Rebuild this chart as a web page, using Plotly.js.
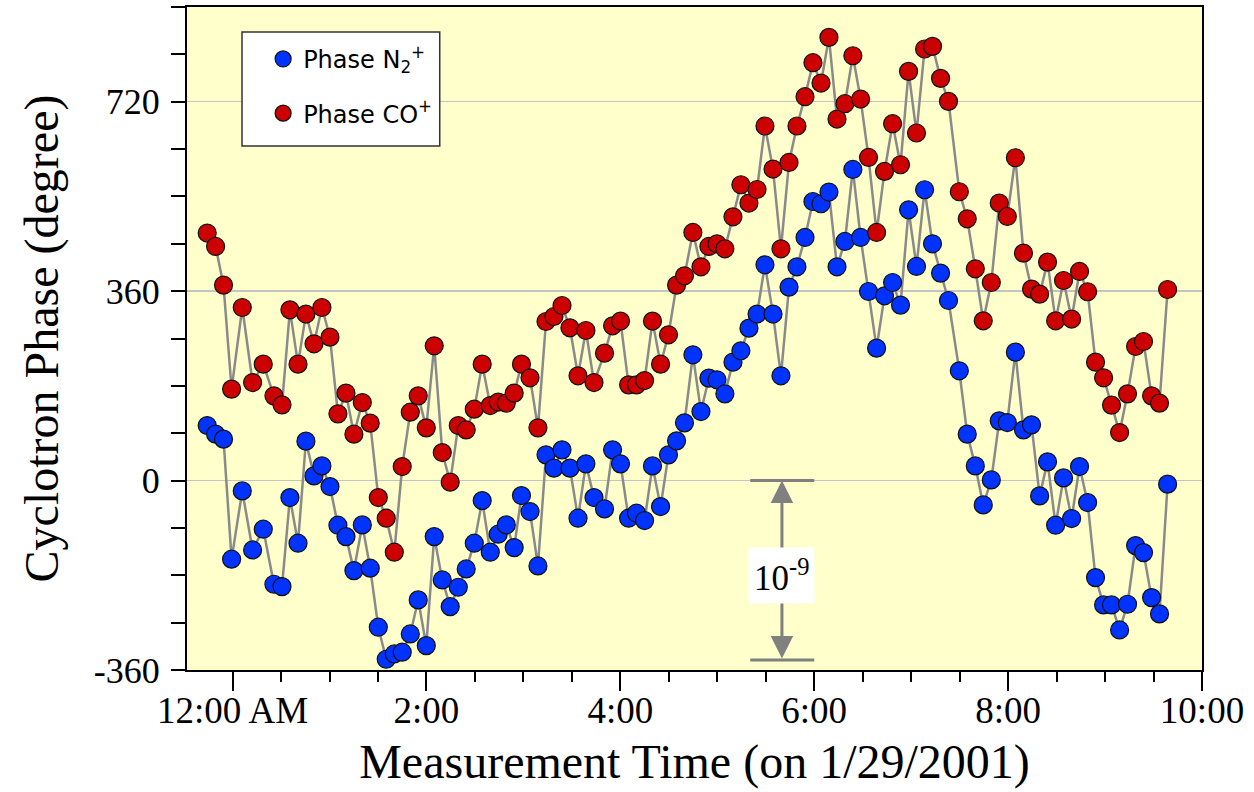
<!DOCTYPE html>
<html>
<head>
<meta charset="utf-8">
<script src="https://cdn.plot.ly/plotly-3.0.1.min.js"></script>
<style>html,body{margin:0;padding:0;background:#fff;}#chart{width:1254px;height:792px;}</style>
</head>
<body>
<div id="chart"></div>
<script>
// Measurement times, minutes after midnight on 1/29/2001
const timeMin = [-15.7,-10.5,-5.6,-0.6,6.0,12.4,19.0,25.6,30.6,35.5,
40.5,45.4,50.4,55.3,60.3,65.2,70.2,75.1,80.3,85.2,
90.2,95.1,100.1,105.0,110.0,114.9,119.9,124.8,129.8,134.7,
139.7,144.6,149.6,154.5,159.5,164.4,169.4,174.3,178.8,184.1,
189.0,194.0,198.9,203.9,208.8,213.8,218.7,223.7,230.2,235.2,
240.1,245.1,250.0,255.0,259.9,264.9,269.8,274.8,279.7,284.9,
289.9,294.8,299.8,304.7,309.7,314.6,319.6,324.6,329.5,334.5,
339.4,344.4,349.3,354.3,359.2,364.2,369.1,374.1,379.0,383.9,
388.7,393.6,398.6,403.5,408.5,413.4,418.4,423.3,428.3,433.2,
438.2,443.1,449.8,454.7,459.7,464.6,469.6,474.5,479.5,484.5,
489.5,494.5,499.5,504.4,509.4,514.3,519.3,524.2,529.2,534.1,
539.1,544.0,549.0,553.9,558.9,563.8,568.8,573.7,578.7];

// Cyclotron phase of N2+ (degree)
const phaseN2 = [104.6,88.2,78.7,-149.4,-19.6,-131.8,-92.4,-197.0,-201.5,-32.3,
-119.0,74.9,8.9,27.9,-11.4,-84.8,-106.5,-171.1,-84.2,-166.5,
-278.7,-339.6,-329.5,-326.2,-291.5,-226.8,-313.7,-106.5,-188.8,-239.6,
-202.7,-167.9,-119.0,-38.0,-136.1,-101.9,-84.2,-127.4,-28.5,-58.9,
-162.2,48.9,23.6,58.4,23.6,-71.5,31.8,-32.3,-53.8,58.4,
31.8,-71.5,-62.0,-76.0,27.9,-49.4,48.9,75.5,109.7,239.0,
131.2,194.7,191.5,164.8,225.1,246.6,289.7,316.4,410.1,316.4,
199.1,367.7,406.3,462.0,530.4,526.1,548.3,406.3,454.4,591.3,
462.0,359.3,251.7,351.1,376.4,333.5,514.6,406.9,552.7,450.0,
394.3,342.2,208.6,88.2,27.9,-46.2,1.3,113.5,110.3,244.1,
96.4,105.9,-29.1,35.6,-84.8,5.1,-72.2,26.6,-41.8,-184.4,
-236.3,-236.3,-283.9,-235.0,-123.6,-136.9,-222.4,-253.4,-6.8];

// Cyclotron phase of CO+ (degree)
const phaseCO = [470.4,444.9,371.5,173.8,328.9,186.3,221.3,161.0,143.9,324.5,
221.3,316.4,259.9,328.9,272.6,126.8,166.2,88.2,148.3,109.1,
-32.3,-71.5,-136.1,26.6,130.0,161.0,100.2,256.1,53.2,-3.0,
104.6,96.4,135.7,221.3,142.6,149.1,147.2,166.2,221.3,195.3,
100.2,302.3,311.8,332.7,290.3,199.1,285.2,186.3,242.2,294.1,
303.1,181.9,181.9,190.1,303.1,221.3,277.0,371.5,389.2,471.5,
406.3,444.9,450.0,440.5,501.3,562.2,527.4,553.2,673.8,592.0,
440.5,604.6,673.8,729.5,794.1,755.5,842.2,687.1,716.2,807.4,
725.1,614.1,471.5,587.5,678.2,600.2,777.6,660.5,820.2,825.1,
764.3,720.6,548.9,497.5,402.5,303.6,376.4,527.4,501.9,613.5,
432.3,363.9,354.4,415.2,303.6,380.2,306.9,397.4,358.8,225.1,
195.3,143.4,91.3,164.8,254.8,264.3,161.0,147.2,363.1];

const xTickVals = [0, 2, 4, 6, 8, 10];
const xTickText = ['12:00 AM', '2:00', '4:00', '6:00', '8:00', '10:00'];
const yTickVals = [-360, 0, 360, 720];
const yTickText = ['-360', '0', '360', '720'];
const seriesNames = ['Phase N<sub>2</sub><sup>+</sup>', 'Phase CO<sup>+</sup>'];
const scaleLabel = '10<sup>-9</sup>';

const hours = timeMin.map(m => m / 60);
const LINE = '#8a8a8a';
const SERIF = 'Liberation Serif, Times New Roman, serif';

const traces = [
  {x: hours, y: phaseN2, mode: 'lines', line: {color: LINE, width: 2.5}, showlegend: false, legendgroup: 'n2', hoverinfo: 'skip'},
  {x: hours, y: phaseCO, mode: 'lines', line: {color: LINE, width: 2.5}, showlegend: false, legendgroup: 'co', hoverinfo: 'skip'},
  {x: hours, y: phaseN2, mode: 'markers', name: seriesNames[0], legendgroup: 'n2',
   marker: {color: '#0033ff', size: 18, line: {color: '#111', width: 1.2}}},
  {x: hours, y: phaseCO, mode: 'markers', name: seriesNames[1], legendgroup: 'co',
   marker: {color: '#cc0000', size: 18, line: {color: '#111', width: 1.2}}}
];

const arrowX = 5.667;
const layout = {
  width: 1254, height: 792,
  margin: {l: 187, r: 52, t: 7, b: 122},
  paper_bgcolor: '#ffffff',
  plot_bgcolor: '#ffffcc',
  showlegend: true,
  legend: {x: 0.075, y: 0.955, xanchor: 'left', yanchor: 'top',
    bgcolor: 'rgba(0,0,0,0)', borderwidth: 0, traceorder: 'grouped', tracegroupgap: 20,
    font: {family: 'DejaVu Sans, Verdana, sans-serif', size: 24, color: '#000'}},
  xaxis: {
    range: [-0.47, 10], tickmode: 'array', tickvals: xTickVals, ticktext: xTickText,
    ticks: 'outside', ticklen: 19, tickwidth: 2, tickcolor: '#000',
    minor: {tickmode: 'linear', tick0: 0, dtick: 0.5, ticks: 'outside', ticklen: 10, tickwidth: 2, tickcolor: '#000', showgrid: false},
    showline: true, linewidth: 2, linecolor: '#000', mirror: true,
    showgrid: false, zeroline: false,
    ticklabelstandoff: -12,
    tickfont: {family: SERIF, size: 37, color: '#000'},
    title: {text: 'Measurement Time (on 1/29/2001)', font: {family: SERIF, size: 48, color: '#000'}, standoff: 14}
  },
  yaxis: {
    range: [-360, 900], tickmode: 'array', tickvals: yTickVals, ticktext: yTickText,
    ticks: 'outside', ticklen: 14, tickwidth: 2, tickcolor: '#000',
    minor: {tickmode: 'linear', tick0: -360, dtick: 90, ticks: 'outside', ticklen: 14, tickwidth: 2, tickcolor: '#000', showgrid: false},
    showline: true, linewidth: 2, linecolor: '#000', mirror: true,
    showgrid: true, gridcolor: '#c4c4c4', gridwidth: 1.5, zeroline: false,
    ticklabelstandoff: 4,
    tickfont: {family: SERIF, size: 36, color: '#000'},
    title: {text: 'Cyclotron Phase (degree)', font: {family: SERIF, size: 48, color: '#000'}, standoff: 20}
  },
  shapes: [
    {type: 'rect', xref: 'paper', yref: 'paper', x0: 0.0542, x1: 0.249, y0: 0.7903, y1: 0.9623,
     fillcolor: '#ffffff', line: {color: '#333', width: 1.5}, layer: 'above'},
    {type: 'line', xref: 'x', yref: 'y', x0: 5.34, x1: 6.0, y0: 0, y1: 0, line: {color: '#808080', width: 3}},
    {type: 'line', xref: 'x', yref: 'y', x0: 5.34, x1: 6.0, y0: -341, y1: -341, line: {color: '#808080', width: 3}}
  ],
  annotations: [
    {x: arrowX, y: 0, ax: arrowX, ay: -341, xref: 'x', yref: 'y', axref: 'x', ayref: 'y', text: '',
     showarrow: true, arrowside: 'end+start', arrowhead: 2, startarrowhead: 2,
     arrowsize: 1.5, startarrowsize: 1.5, arrowwidth: 3, arrowcolor: '#808080'},
    {x: arrowX, y: -181, xref: 'x', yref: 'y', text: scaleLabel, showarrow: false,
     font: {family: SERIF, size: 35, color: '#000'}, bgcolor: '#ffffff', borderpad: 5}
  ]
};

Plotly.newPlot('chart', traces, layout, {displayModeBar: false, staticPlot: true});
</script>
</body>
</html>
